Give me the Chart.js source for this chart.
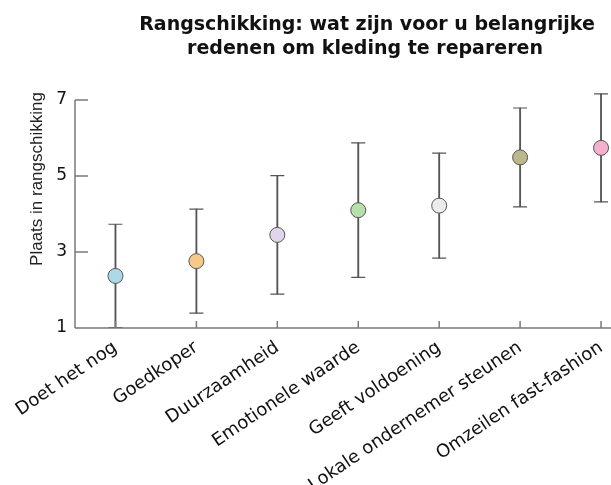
<!DOCTYPE html>
<html>
<head>
<meta charset="utf-8">
<script src="https://cdn.jsdelivr.net/npm/chart.js@4"></script>
<style>
  html, body { margin: 0; padding: 0; background: #fff; overflow: hidden; }
  #wrap { width: 700px; height: 485px; }
</style>
</head>
<body>
<div id="wrap"><canvas id="c" width="700" height="485"></canvas></div>
<script>
// Reasons for repairing clothes, average rank with spread
const categories = ['Doet het nog', 'Goedkoper', 'Duurzaamheid', 'Emotionele waarde',
                    'Geeft voldoening', 'Lokale ondernemer steunen', 'Omzeilen fast-fashion'];
const meanRank = [2.37, 2.76, 3.45, 4.10, 4.22, 5.49, 5.74];
const spread   = [1.36, 1.37, 1.56, 1.77, 1.38, 1.30, 1.42];
const dotColors = ['#add8e6', '#f6c98b', '#e0d5ea', '#b6dfa9', '#ececec', '#bdb78e', '#f3b1cf'];
const yTickValues = [1, 3, 5, 7];
const titleLines = ['Rangschikking: wat zijn voor u belangrijke', 'redenen om kleding te repareren'];
const yLabel = 'Plaats in rangschikking';

const lowEnd  = meanRank.map((m, i) => m - spread[i]);
const highEnd = meanRank.map((m, i) => m + spread[i]);
const whiskers = lowEnd.map((lo, i) => [lo, highEnd[i]]);

const BAR_GREY = '#555';
const AXIS_GREY = '#7a7a7a';

// Axes lines, inward tick marks, title and y-axis caption
const decorations = {
  id: 'decorations',
  afterDraw(chart) {
    const { ctx, chartArea, scales: { x, y } } = chart;
    const yBottom = y.getPixelForValue(yTickValues[0]);
    const yTop = y.getPixelForValue(yTickValues[yTickValues.length - 1]);
    ctx.save();
    ctx.strokeStyle = AXIS_GREY;
    ctx.lineWidth = 1.5;
    ctx.beginPath();
    ctx.moveTo(chartArea.left, yTop);
    ctx.lineTo(chartArea.left, yBottom);
    ctx.moveTo(chartArea.left, yBottom);
    ctx.lineTo(chartArea.right, yBottom);
    yTickValues.forEach(v => {
      const py = y.getPixelForValue(v);
      ctx.moveTo(chartArea.left, py);
      ctx.lineTo(chartArea.left + 13, py);
    });
    categories.forEach((_, i) => {
      const px = x.getPixelForTick(i);
      ctx.moveTo(px, yBottom);
      ctx.lineTo(px, yBottom - 7);
    });
    ctx.stroke();

    ctx.fillStyle = '#111';
    ctx.textAlign = 'center';
    ctx.textBaseline = 'alphabetic';
    ctx.font = 'bold 19px "DejaVu Sans"';
    ctx.fillText(titleLines[0], 367, 30);
    ctx.fillText(titleLines[1], 365, 53.5);

    ctx.translate(42, 179);
    ctx.rotate(-Math.PI / 2);
    ctx.font = '17px "Liberation Sans"';
    ctx.fillStyle = '#222';
    ctx.fillText(yLabel, 0, 0);
    ctx.restore();
  }
};

new Chart(document.getElementById('c'), {
  type: 'bar',
  data: {
    labels: categories,
    datasets: [
      {
        type: 'line',
        data: meanRank,
        showLine: false,
        pointRadius: 7.5,
        pointBackgroundColor: dotColors,
        pointBorderColor: '#555',
        pointBorderWidth: 1,
        order: 0
      },
      {
        type: 'line',
        data: highEnd,
        showLine: false,
        pointStyle: 'line',
        pointRadius: 7,
        pointBorderColor: BAR_GREY,
        pointBorderWidth: 1.2,
        order: 1
      },
      {
        type: 'line',
        data: lowEnd,
        showLine: false,
        pointStyle: 'line',
        pointRadius: 7,
        pointBorderColor: BAR_GREY,
        pointBorderWidth: 1.2,
        order: 1
      },
      {
        type: 'bar',
        data: whiskers,
        barThickness: 1.2,
        backgroundColor: BAR_GREY,
        borderWidth: 0,
        order: 2
      }
    ]
  },
  options: {
    responsive: false,
    animation: false,
    devicePixelRatio: 1,
    events: [],
    layout: { padding: { left: 0, right: 58.5, top: 88.6, bottom: 0 } },
    plugins: {
      legend: { display: false },
      tooltip: { enabled: false },
      title: { display: false }
    },
    scales: {
      x: {
        type: 'category',
        offset: true,
        grid: { display: false, drawTicks: false },
        border: { display: false },
        ticks: {
          minRotation: 34,
          maxRotation: 34,
          autoSkip: false,
          padding: 9,
          color: '#111',
          font: { family: 'DejaVu Sans', size: 18 }
        },
        afterFit(scale) { scale.height = 157; }
      },
      y: {
        type: 'linear',
        min: 1,
        max: 7.3,
        grid: { display: false, drawTicks: false },
        border: { display: false },
        ticks: {
          padding: 8,
          color: '#111',
          font: { family: 'DejaVu Sans', size: 17 }
        },
        afterBuildTicks(scale) { scale.ticks = yTickValues.map(v => ({ value: v })); },
        afterFit(scale) { scale.width = 75; }
      }
    }
  },
  plugins: [decorations]
});
</script>
</body>
</html>
